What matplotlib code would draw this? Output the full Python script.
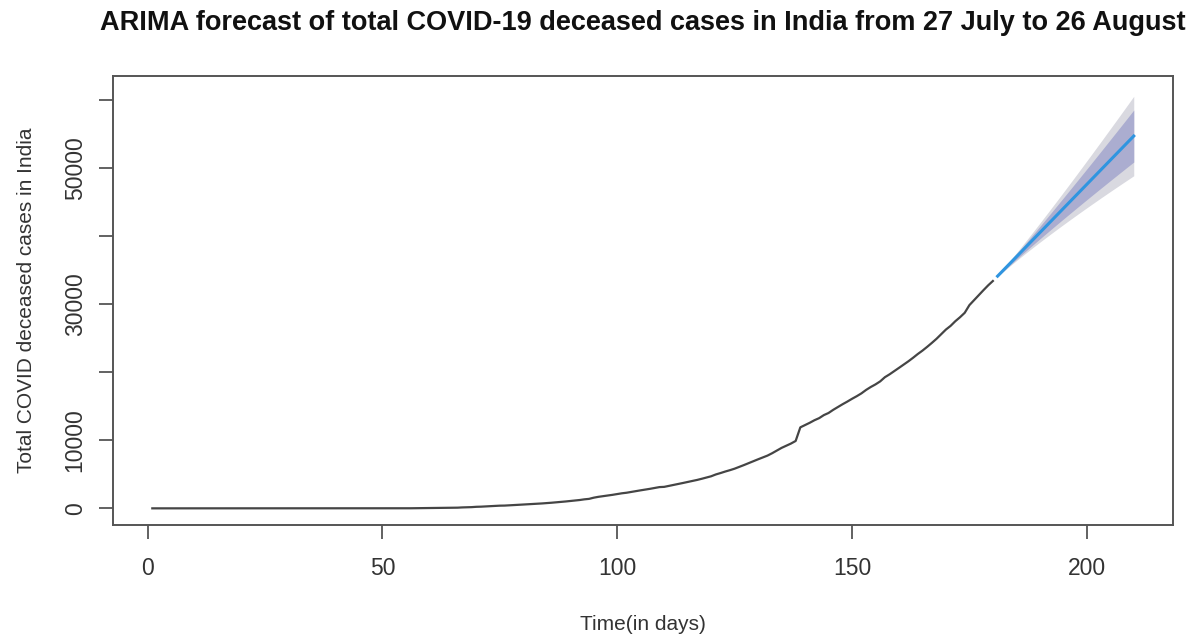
import matplotlib
matplotlib.use("Agg")
import matplotlib.pyplot as plt
import numpy as np

plt.rcParams['font.family'] = ['Liberation Sans', 'DejaVu Sans']

# --- cumulative deceased cases, day 1 = 30 Jan ---
deaths_jan_mar11 = [0] * 42
deaths_mar = [1, 2, 2, 2, 2, 3, 3, 4, 5, 5, 7, 10, 11, 12, 20, 22, 27, 32, 47, 52]
deaths_apr = [58, 72, 86, 99, 136, 150, 178, 226, 246, 288, 331, 358, 393, 405, 448,
              486, 521, 559, 592, 645, 681, 721, 780, 825, 881, 939, 1008, 1079, 1154, 1223]
deaths_may = [1323, 1391, 1566, 1693, 1785, 1889, 1985, 2101, 2212, 2294, 2415, 2551,
              2649, 2753, 2871, 2994, 3123, 3156, 3302, 3434, 3584, 3726, 3868, 4024,
              4172, 4344, 4534, 4711, 4980, 5185, 5408]
deaths_jun = [5608, 5829, 6088, 6363, 6649, 6946, 7207, 7473, 7750, 8102, 8498, 8884,
              9195, 9520, 9900, 11903, 12237, 12573, 12948, 13254, 13699, 14011, 14476,
              14894, 15301, 15685, 16095, 16475, 16893, 17400]
deaths_jul = [17834, 18213, 18655, 19268, 19693, 20160, 20642, 21129, 21604, 22123,
              22674, 23174, 23727, 24309, 24915, 25602, 26273, 26816, 27497, 28082,
              28732, 29861, 30601, 31358, 32063, 32771, 33408]

# --- ARIMA point forecast for the next 30 days and interval half-widths ---
fc_mean = [34120, 34830, 35540, 36250, 36960, 37670, 38380, 39090, 39800, 40510,
           41220, 41930, 42640, 43350, 44060, 44770, 45480, 46190, 46900, 47610,
           48320, 49030, 49740, 50450, 51160, 51870, 52580, 53290, 54000, 54710]
half80 = [46, 113, 192, 279, 372, 471, 576, 685, 798, 915, 1036, 1161, 1288, 1418, 1551,
          1687, 1826, 1966, 2109, 2255, 2401, 2552, 2702, 2858, 3013, 3171, 3330, 3491,
          3654, 3819]
half95 = [70, 173, 293, 426, 569, 721, 881, 1048, 1221, 1400, 1585, 1775, 1969, 2168,
          2372, 2580, 2792, 3007, 3225, 3448, 3672, 3903, 4132, 4370, 4608, 4849, 5093,
          5339, 5588, 5840]

history = np.array(deaths_jan_mar11 + deaths_mar + deaths_apr + deaths_may
                   + deaths_jun + deaths_jul)
days = np.arange(1, len(history) + 1)
fc_days = np.arange(len(history) + 1, len(history) + 1 + len(fc_mean))
fc_mean = np.array(fc_mean)
half80 = np.array(half80)
half95 = np.array(half95)

fig = plt.figure(figsize=(11.95, 6.35), dpi=100)
ax = fig.add_axes([0.0946, 0.1732, 0.887, 0.7071])

ax.fill_between(fc_days, fc_mean - half95, fc_mean + half95, color='#d9d9e0', lw=0)
ax.fill_between(fc_days, fc_mean - half80, fc_mean + half80, color='#abadd0', lw=0)
ax.plot(days, history, color='#454545', lw=1.6)
ax.plot(fc_days, fc_mean, color='#2f95e0', lw=2.2)

ax.set_xlim(-7.36, 218.36)
ax.set_ylim(-2450, 63530)

ax.set_xticks([0, 50, 100, 150, 200])
ax.set_yticks([0, 10000, 20000, 30000, 40000, 50000, 60000])
ax.set_yticklabels(['0', '10000', '', '30000', '', '50000', ''],
                   rotation=90, va='center')
ax.tick_params(axis='both', direction='out', length=10, width=1.3, color='#555555',
               labelsize=16.5, labelcolor='#333333')
ax.tick_params(axis='x', pad=13)
ax.tick_params(axis='y', pad=9)
for s in ax.spines.values():
    s.set_color('#555555')
    s.set_linewidth(1.4)

ax.set_xlabel('Time(in days)', fontsize=15, color='#333333', labelpad=25)
ax.set_ylabel('Total COVID deceased cases in India', fontsize=15, color='#333333',
              labelpad=20)
ax.set_title('ARIMA forecast of total COVID-19 deceased cases in India from 27 July to 26 August',
             fontsize=19.5, fontweight='bold', color='#111111', pad=33)

fig.savefig('out.png', dpi=100)
